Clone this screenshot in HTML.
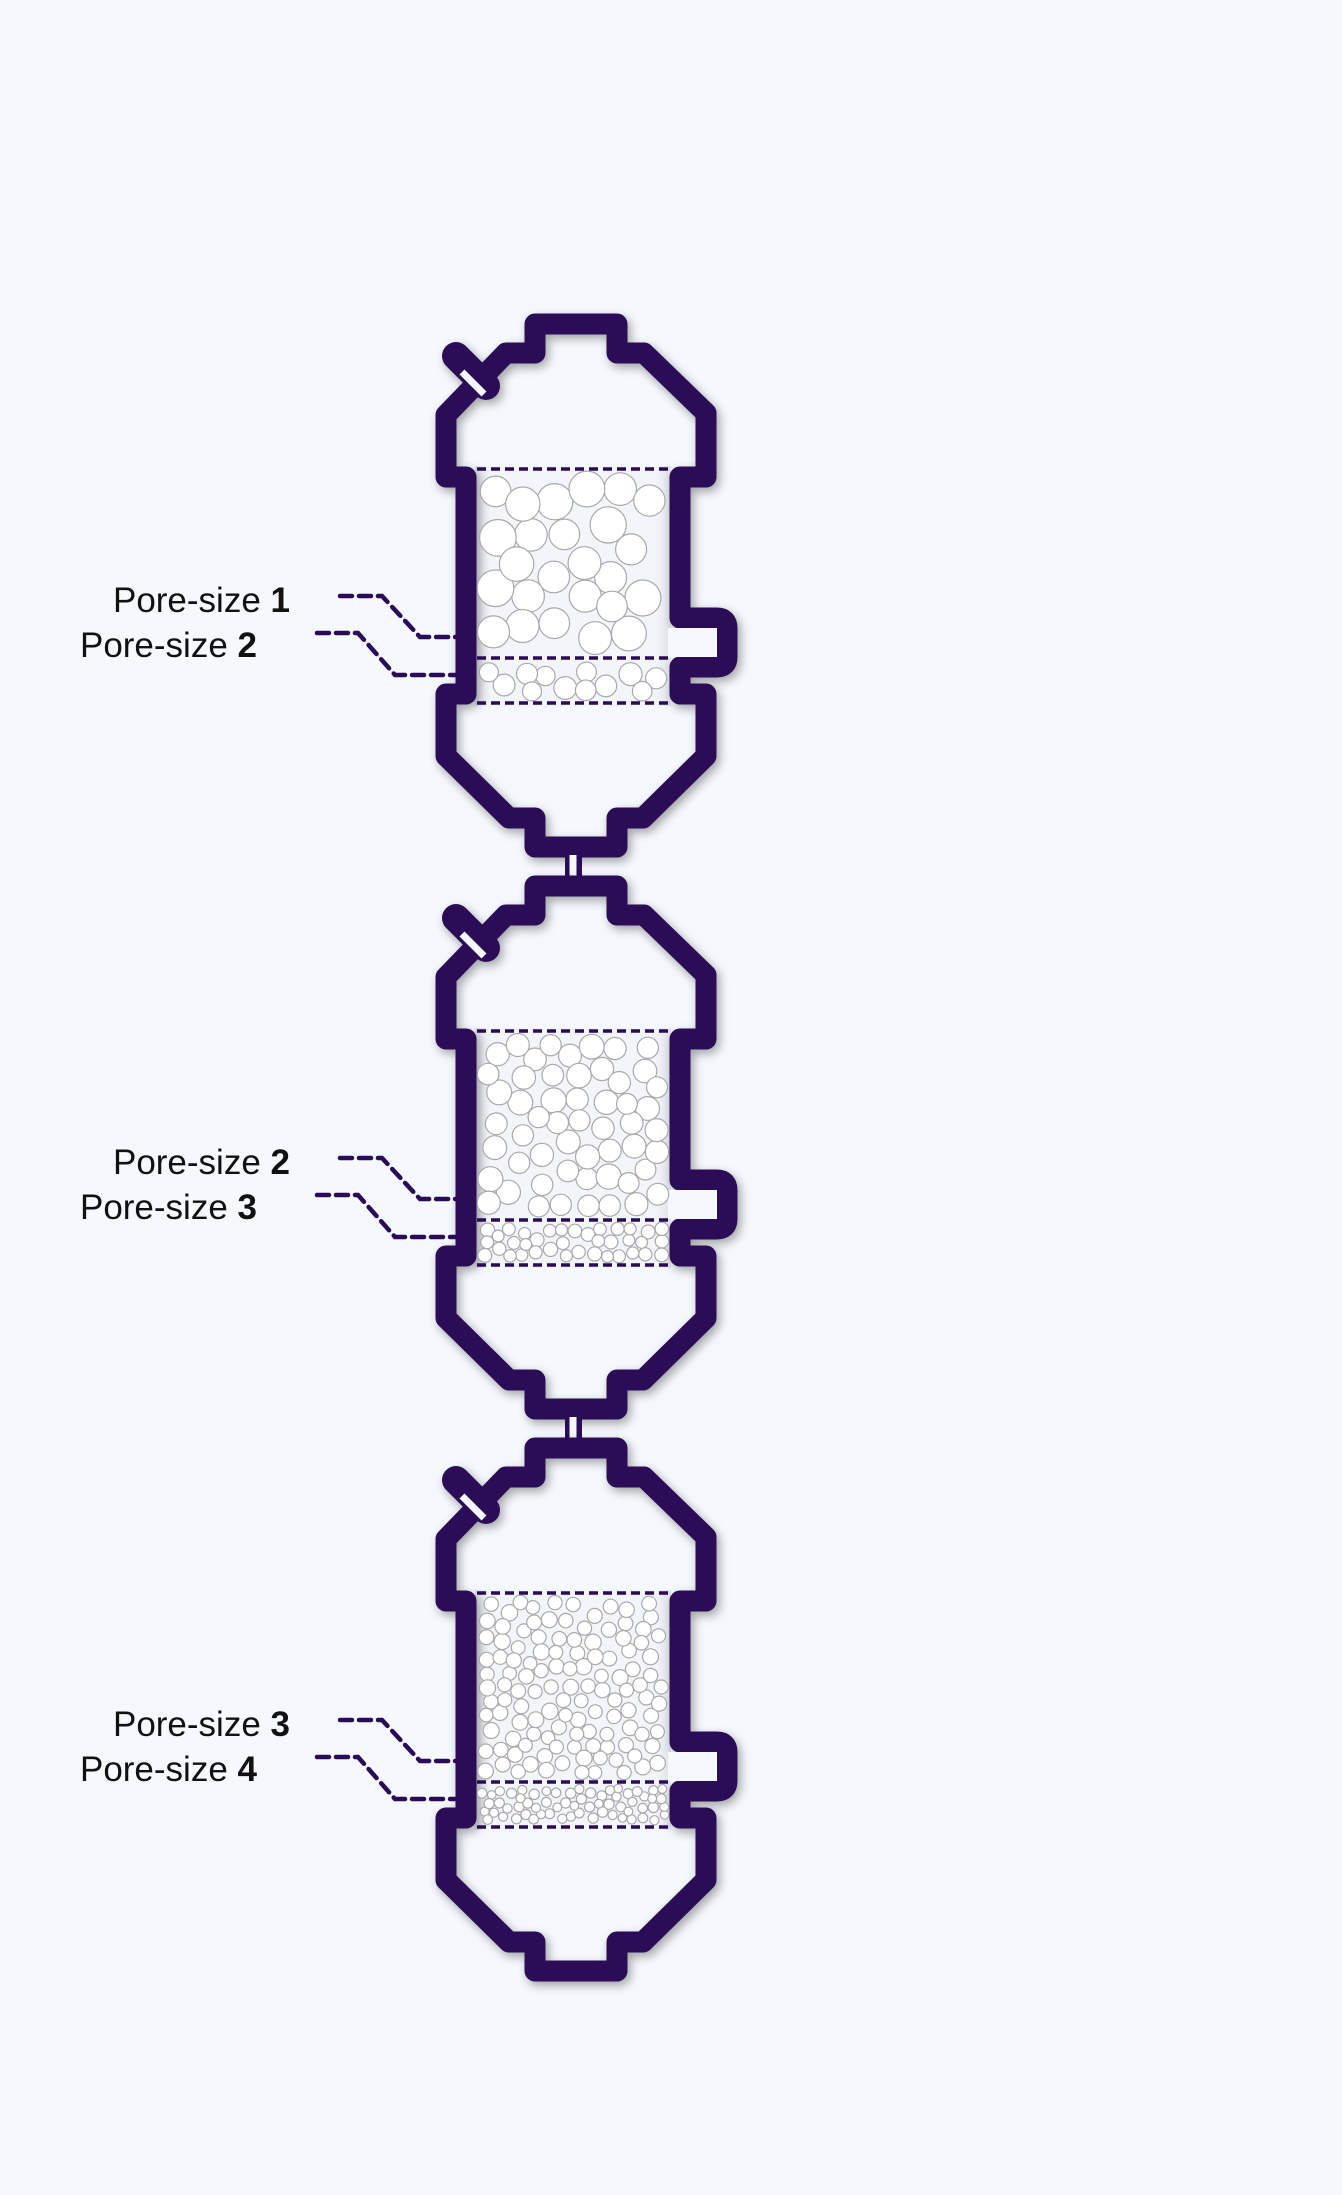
<!DOCTYPE html>
<html><head><meta charset="utf-8"><style>
html,body{margin:0;padding:0;background:#f5f8fc;}
svg{display:block}
text{font-family:"Liberation Sans",sans-serif;font-size:35px;fill:#111}
</style></head><body>
<svg id="s" width="1342" height="2195" viewBox="0 0 1342 2195" xmlns="http://www.w3.org/2000/svg">
<defs>
<filter id="sh" x="-20%" y="-20%" width="140%" height="140%"><feGaussianBlur in="SourceAlpha" stdDeviation="5"/><feOffset dx="3" dy="4"/><feComponentTransfer><feFuncA type="linear" slope="0.35"/></feComponentTransfer><feMerge><feMergeNode/><feMergeNode in="SourceGraphic"/></feMerge></filter>
<linearGradient id="cg" x1="0" x2="1" y1="0" y2="0"><stop offset="0" stop-color="#dfe3ea"/><stop offset="0.08" stop-color="#f2f5f9"/><stop offset="0.92" stop-color="#f2f5f9"/><stop offset="1" stop-color="#dfe3ea"/></linearGradient>
</defs>
<g id="root"></g>
</svg>
<script>
(function(){
var NS="http://www.w3.org/2000/svg",root=document.getElementById("root");
function el(n,a,p){var e=document.createElementNS(NS,n);for(var k in a)e.setAttribute(k,a[k]);(p||root).appendChild(e);return e;}
var seed=11;function rnd(){seed=(seed*16807)%2147483647;return seed/2147483647;}
function fill(g,x0,y0,x1,y1,r){var cs=[],tries=0;while(tries<8000){tries++;var rr=r*(0.9+rnd()*0.2);var x=x0+rr+rnd()*(x1-x0-2*rr),y=y0+rr+rnd()*(y1-y0-2*rr);var ok=true;for(var i=0;i<cs.length;i++){var dx=cs[i][0]-x,dy=cs[i][1]-y;if(Math.sqrt(dx*dx+dy*dy)<(cs[i][2]+rr)*0.9){ok=false;break;}}if(ok)cs.push([x,y,rr]);}
cs.forEach(function(c){el("circle",{cx:c[0].toFixed(1),cy:c[1].toFixed(1),r:c[2].toFixed(1),fill:"#fff",stroke:"#a9a9ad","stroke-width":1.2},g);});}
var C="#2a0b57";
var beds=[[17,10.5],[11.5,6.5],[7.5,4.8]];
var labs=[["1","2"],["2","3"],["3","4"]];
for(var v=0;v<3;v++){
 var o=v*562,g=el("g",{transform:"translate(0,"+o+")"});
 el("rect",{x:475,y:466,width:196,height:240,fill:"url(#cg)"},g);
 var w=el("g",{filter:"url(#sh)"},g);
 var d="M535,353 L535,324 L617,324 L617,353 L644,353 L706,413 L706,477 L680,477 L680,618 L717,618 Q727,618 727,628 L727,657 Q727,667 717,667 L680,667 L680,694 L706,694 L706,756 L643,818 L617,818 L617,847 L535,847 L535,818 L509,818 L446,756 L446,694 L466,694 L466,477 L446,477 L446,415 L506,353 Z";
 el("path",{d:d,fill:"none",stroke:C,"stroke-width":21,"stroke-linejoin":"round"},w);
 el("line",{x1:486,y1:386,x2:456,y2:356,stroke:C,"stroke-width":28,"stroke-linecap":"round"},w);
 el("line",{x1:462,y1:372,x2:484,y2:394,stroke:"#f5f8fc","stroke-width":7},w);
 el("rect",{x:668,y:628,width:49,height:29,fill:"#f5f8fc"},g);
 fill(g,477,471,669,656,beds[v][0]);
 fill(g,477,660,669,701,beds[v][1]);
 [469,658,703].forEach(function(y){el("line",{x1:477,y1:y,x2:669,y2:y,stroke:C,"stroke-width":3.5,"stroke-dasharray":"9 5"},g);});
 if(v<2){el("rect",{x:565,y:855,width:17,height:26,fill:C},g);el("rect",{x:569.5,y:855,width:7,height:26,fill:"#f5f8fc"},g);}
 var t1=el("text",{x:290,y:612,"text-anchor":"end"},g);t1.textContent="Pore-size ";var b1=el("tspan",{"font-weight":"bold"},t1);b1.textContent=labs[v][0];
 var t2=el("text",{x:257,y:657,"text-anchor":"end"},g);t2.textContent="Pore-size ";var b2=el("tspan",{"font-weight":"bold"},t2);b2.textContent=labs[v][1];
 el("polyline",{points:"340,596 382,596 420,637 458,637",fill:"none",stroke:C,"stroke-width":4.5,"stroke-dasharray":"12 7","stroke-linecap":"round"},g);
 el("polyline",{points:"317,633 358,633 395,675 458,675",fill:"none",stroke:C,"stroke-width":4.5,"stroke-dasharray":"12 7","stroke-linecap":"round"},g);
}
})();
</script>
</body></html>
